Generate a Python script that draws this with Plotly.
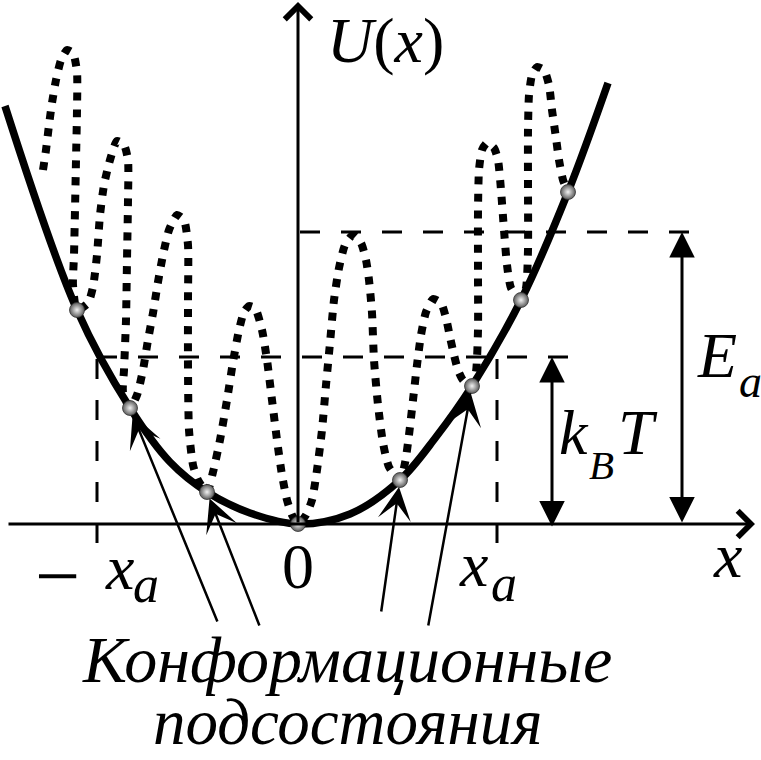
import plotly.graph_objects as go

# ---------------- data ----------------
# smooth harmonic potential U(x)
parab_x = [-2.93, -2.21, -1.68, -1.28, -0.91, -0.48, 0.0, 0.52, 1.02, 1.38, 1.74, 2.23, 2.70, 3.10]
parab_u = [4.18, 2.14, 1.16, 0.62, 0.32, 0.11, 0.0, 0.10, 0.44, 0.87, 1.38, 2.24, 3.32, 4.41]

# conformational substates (grey balls, minima of the rugged landscape)
sub_x = [-2.21, -1.68, -0.91, 0.0, 1.02, 1.74, 2.23, 2.70]
sub_u = [2.14, 1.16, 0.32, 0.0, 0.44, 1.38, 2.24, 3.32]

# rugged (dotted) landscape
rug_x = [-2.55, -2.52, -2.49, -2.46, -2.42, -2.37, -2.31, -2.25, -2.21, -2.21, -2.22, -2.23, -2.24, -2.25, -2.21,
         -2.10, -2.05, -2.01, -1.98, -1.94, -1.88, -1.81, -1.74, -1.70, -1.70, -1.71, -1.72, -1.74, -1.75, -1.68,
         -1.61, -1.55, -1.50, -1.45, -1.40, -1.35, -1.29, -1.21, -1.14, -1.10, -1.10, -1.10, -1.09, -1.05, -1.00, -0.91,
         -0.85, -0.78, -0.71, -0.65, -0.59, -0.54, -0.49, -0.43, -0.36, -0.31, -0.26, -0.21, -0.16, -0.11, -0.06, 0.0,
         0.08, 0.14, 0.19, 0.24, 0.28, 0.32, 0.36, 0.41, 0.47, 0.55, 0.63, 0.68, 0.71, 0.74, 0.76, 0.80, 0.85, 0.91, 1.02,
         1.07, 1.11, 1.15, 1.19, 1.23, 1.28, 1.35, 1.43, 1.48, 1.52, 1.56, 1.60, 1.65, 1.74,
         1.78, 1.80, 1.80, 1.80, 1.81, 1.84, 1.89, 1.96, 2.00, 2.03, 2.06, 2.09, 2.13, 2.23,
         2.28, 2.30, 2.30, 2.30, 2.31, 2.34, 2.39, 2.46, 2.51, 2.54, 2.58, 2.61, 2.65, 2.70]
rug_u = [3.54, 3.74, 3.99, 4.21, 4.44, 4.64, 4.74, 4.71, 4.52, 4.14, 3.64, 3.14, 2.69, 2.39, 2.14,
         2.21, 2.37, 2.69, 3.09, 3.39, 3.64, 3.83, 3.79, 3.64, 3.24, 2.64, 2.04, 1.54, 1.32, 1.16,
         1.29, 1.54, 1.84, 2.11, 2.42, 2.69, 2.94, 3.09, 3.04, 2.79, 2.24, 1.54, 0.94, 0.59, 0.44, 0.32,
         0.52, 0.84, 1.24, 1.62, 1.94, 2.12, 2.18, 2.16, 1.94, 1.64, 1.24, 0.84, 0.49, 0.24, 0.09, 0.0,
         0.09, 0.24, 0.54, 0.94, 1.39, 1.81, 2.24, 2.56, 2.79, 2.89, 2.81, 2.64, 2.44, 2.11, 1.64, 1.19, 0.81, 0.57, 0.44,
         0.61, 0.89, 1.24, 1.59, 1.89, 2.12, 2.25, 2.21, 2.06, 1.87, 1.69, 1.54, 1.44, 1.38,
         1.52, 1.94, 2.54, 3.14, 3.54, 3.74, 3.81, 3.76, 3.64, 3.34, 2.94, 2.59, 2.36, 2.24,
         2.36, 2.74, 3.34, 3.94, 4.29, 4.49, 4.57, 4.54, 4.39, 4.14, 3.86, 3.64, 3.44, 3.32]

# energy levels and activation coordinate
kBT = 1.67
Ea = 2.92
xa_left = -2.01
xa_right = 1.99

# arrows from the caption to selected substates (indices into sub_x / sub_u)
pointer_idx = [1, 2, 4, 5]
pointer_tail_x = [-0.80, -0.38, 0.83, 1.30]
pointer_tail_u = [-0.99, -1.03, -0.89, -1.03]

FONT = "Liberation Serif, 'Times New Roman', serif"

fig = go.Figure()

DASH = "20px,21px"
# dashed guide lines
fig.add_trace(go.Scatter(x=[0.02, 4.00], y=[Ea, Ea], mode="lines",
                         line=dict(color="black", width=3, dash=DASH)))
fig.add_trace(go.Scatter(x=[xa_left, 2.82], y=[kBT, kBT], mode="lines",
                         line=dict(color="black", width=3, dash=DASH)))
for xv in (xa_left, xa_right):
    fig.add_trace(go.Scatter(x=[xv, xv], y=[-0.19, kBT], mode="lines",
                             line=dict(color="black", width=3, dash=DASH)))

# rugged landscape (dotted)
fig.add_trace(go.Scatter(x=rug_x, y=rug_u, mode="lines",
                         line=dict(color="black", width=8, dash="8px,9px", shape="spline", smoothing=0.6)))
# harmonic potential
fig.add_trace(go.Scatter(x=parab_x, y=parab_u, mode="lines",
                         line=dict(color="black", width=7.5, shape="spline", smoothing=1.0)))
# substates
fig.add_trace(go.Scatter(x=sub_x, y=sub_u, mode="markers",
                         marker=dict(size=15, color="#5a5a5a",
                                     gradient=dict(type="radial", color="#f2f2f2"),
                                     line=dict(color="#333333", width=0.8))))

ann = []
# axes with open arrowheads
ann.append(dict(x=4.57, y=0, ax=-2.91, ay=0, xref="x", yref="y", axref="x", ayref="y",
                text="", showarrow=True, arrowhead=4, arrowwidth=3, arrowsize=1.7, arrowcolor="black"))
ann.append(dict(x=0, y=5.22, ax=0, ay=0, xref="x", yref="y", axref="x", ayref="y",
                text="", showarrow=True, arrowhead=4, arrowwidth=3, arrowsize=1.7, arrowcolor="black"))
# double arrows for kBT and Ea
ann.append(dict(x=2.54, y=kBT, ax=2.54, ay=-0.04, xref="x", yref="y", axref="x", ayref="y",
                text="", showarrow=True, arrowhead=2, startarrowhead=2, arrowside="end+start",
                arrowwidth=3, arrowsize=1.7, startarrowsize=1.7, arrowcolor="black"))
ann.append(dict(x=3.84, y=Ea, ax=3.84, ay=0.0, xref="x", yref="y", axref="x", ayref="y",
                text="", showarrow=True, arrowhead=2, startarrowhead=2, arrowside="end+start",
                arrowwidth=3, arrowsize=1.7, startarrowsize=1.7, arrowcolor="black"))
# pointer arrows
for i, tx, ty in zip(pointer_idx, pointer_tail_x, pointer_tail_u):
    ann.append(dict(x=sub_x[i], y=sub_u[i], ax=tx, ay=ty, xref="x", yref="y", axref="x", ayref="y",
                    text="", showarrow=True, arrowhead=3, arrowwidth=2.5, arrowsize=2.2,
                    standoff=7, arrowcolor="black"))


def lab(text, x, y, size, xanchor="left", yanchor="middle"):
    ann.append(dict(x=x, y=y, xref="x", yref="y", text=text, showarrow=False,
                    xanchor=xanchor, yanchor=yanchor,
                    font=dict(family=FONT, size=size, color="black")))


lab("<i>U</i>(<i>x</i>)", 0.27, 4.84, 64)
lab("<i>E</i>", 3.97, 1.69, 64)
lab("<i>a</i>", 4.39, 1.43, 46)
lab("<i>k</i>", 2.59, 0.92, 64)
lab("<i>B</i>", 2.89, 0.59, 41)
lab("<i>T</i>", 3.18, 0.92, 64)
lab("\u2212", -2.65, -0.52, 80)
lab("<i>x</i>", -1.95, -0.43, 64)
lab("<i>a</i>", -1.67, -0.60, 52)
lab("0", 0.0, -0.42, 64, xanchor="center")
lab("<i>x</i>", 1.59, -0.40, 64)
lab("<i>a</i>", 1.91, -0.59, 52)
lab("<i>x</i>", 4.13, -0.31, 64)
lab("<i>Конформационные</i>", 0.49, -1.35, 66, xanchor="center")
lab("<i>подсостояния</i>", 0.49, -2.355, 65, xanchor="center", yanchor="bottom")

fig.update_layout(
    width=761, height=760,
    margin=dict(l=0, r=0, t=0, b=0),
    paper_bgcolor="white", plot_bgcolor="white",
    showlegend=False,
    xaxis=dict(range=[-2.98, 4.63], visible=False, fixedrange=True),
    yaxis=dict(range=[-2.36, 5.24], visible=False, fixedrange=True),
    annotations=ann,
)

fig.write_html("out.html", config={"displayModeBar": False},
               post_script="document.body.style.margin='0px';document.body.style.overflow='hidden';")
